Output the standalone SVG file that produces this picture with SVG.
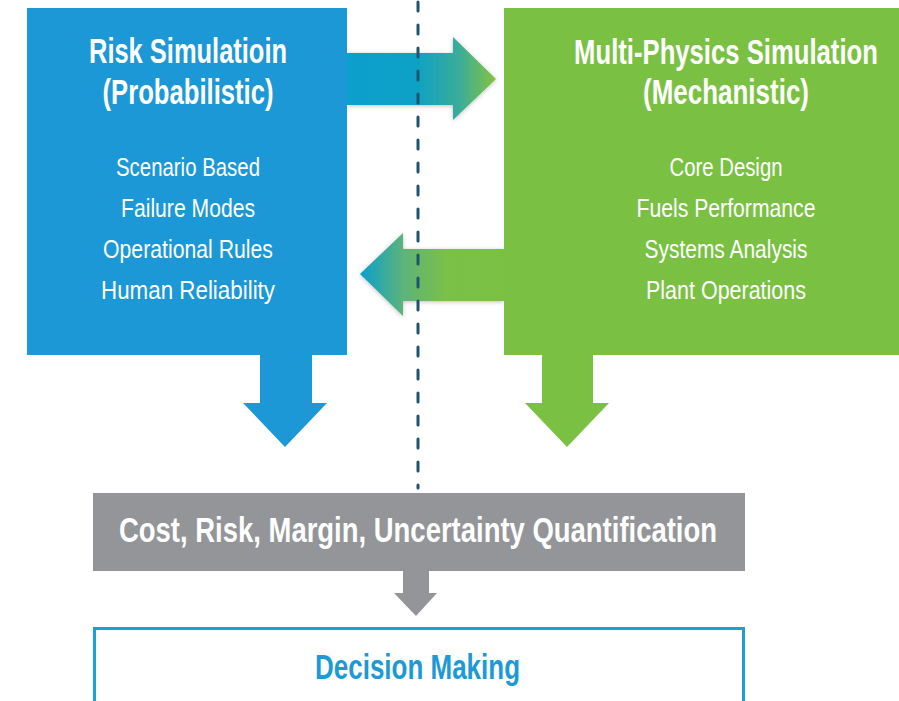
<svg xmlns="http://www.w3.org/2000/svg" width="899" height="701" viewBox="0 0 899 701">
  <defs>
    <linearGradient id="gradRight" gradientUnits="userSpaceOnUse" x1="347" y1="0" x2="496" y2="0">
      <stop offset="0" stop-color="#0a9fcd"/>
      <stop offset="0.45" stop-color="#0ba1c6"/>
      <stop offset="0.75" stop-color="#3aac9a"/>
      <stop offset="1" stop-color="#85c33f"/>
    </linearGradient>
    <linearGradient id="gradLeft" gradientUnits="userSpaceOnUse" x1="504" y1="0" x2="360" y2="0">
      <stop offset="0" stop-color="#7ac143"/>
      <stop offset="0.4" stop-color="#7ac048"/>
      <stop offset="0.7" stop-color="#5db37a"/>
      <stop offset="1" stop-color="#0a9fcd"/>
    </linearGradient>
    <filter id="shadow" x="-20%" y="-30%" width="140%" height="160%">
      <feDropShadow dx="0" dy="1" stdDeviation="2" flood-color="#000" flood-opacity="0.25"/>
    </filter>
  </defs>
  <style>
    .title { font-family: "Liberation Sans", Arial, sans-serif; font-weight: bold; font-size: 35px; fill: #ffffff; text-anchor: middle; }
    .item { font-family: "Liberation Sans", Arial, sans-serif; font-size: 26px; fill: #ffffff; text-anchor: middle; }
    .band { font-family: "Liberation Sans", Arial, sans-serif; font-weight: bold; font-size: 35px; fill: #ffffff; text-anchor: middle; }
    .decision { font-family: "Liberation Sans", Arial, sans-serif; font-weight: bold; font-size: 35px; fill: #1b9ad6; text-anchor: middle; }
    .blue { fill: #1b98d5; }
    .green { fill: #7ac143; }
    .gray { fill: #939598; }
  </style>

  <g id="connectors">
    <polygon id="arrow-risk-to-physics" fill="url(#gradRight)" filter="url(#shadow)" points="347,53 453,53 453,37 496,79 453,120 453,105 347,105"/>
    <polygon id="arrow-physics-to-risk" fill="url(#gradLeft)" filter="url(#shadow)" points="504,249 403,249 403,233 360,274 403,316 403,301 504,301"/>
    <polygon id="arrow-risk-down" class="blue" points="260,354 312,354 312,403 327,403 285,447 243,403 260,403"/>
    <polygon id="arrow-physics-down" class="green" points="542,354 593,354 593,403 609,403 567,447 525,403 542,403"/>
    <polygon id="arrow-quant-down" class="gray" points="403,570 429,570 429,593 437,593 416,616 394,593 403,593"/>
    <line id="divider" x1="418" y1="2" x2="418" y2="488" stroke="#1d5570" stroke-width="3" stroke-dasharray="9 14" stroke-linecap="round"/>
  </g>

  <g id="risk-simulation">
    <rect x="27" y="8" width="320" height="347" class="blue"/>
    <text class="title" x="188" y="63" textLength="198" lengthAdjust="spacingAndGlyphs">Risk Simulatioin</text>
    <text class="title" x="188" y="104" textLength="171" lengthAdjust="spacingAndGlyphs">(Probabilistic)</text>
    <text class="item" x="188" y="176" textLength="144" lengthAdjust="spacingAndGlyphs">Scenario Based</text>
    <text class="item" x="188" y="217" textLength="134" lengthAdjust="spacingAndGlyphs">Failure Modes</text>
    <text class="item" x="188" y="258" textLength="170" lengthAdjust="spacingAndGlyphs">Operational Rules</text>
    <text class="item" x="188" y="299" textLength="174" lengthAdjust="spacingAndGlyphs">Human Reliability</text>
  </g>

  <g id="multi-physics-simulation">
    <rect x="504" y="8" width="395" height="347" class="green"/>
    <text class="title" transform="translate(726,64) scale(0.72,1)" x="0" y="0" textLength="422" lengthAdjust="spacingAndGlyphs">Multi-Physics Simulation</text>
    <text class="title" x="726" y="104" textLength="166" lengthAdjust="spacingAndGlyphs">(Mechanistic)</text>
    <text class="item" x="726" y="176" textLength="113" lengthAdjust="spacingAndGlyphs">Core Design</text>
    <text class="item" x="726" y="217" textLength="179" lengthAdjust="spacingAndGlyphs">Fuels Performance</text>
    <text class="item" x="726" y="258" textLength="163" lengthAdjust="spacingAndGlyphs">Systems Analysis</text>
    <text class="item" x="726" y="299" textLength="160" lengthAdjust="spacingAndGlyphs">Plant Operations</text>
  </g>

  <g id="quantification">
    <rect x="93" y="493" width="652" height="78" class="gray"/>
    <text class="band" x="418" y="542" textLength="598" lengthAdjust="spacingAndGlyphs">Cost, Risk, Margin, Uncertainty Quantification</text>
  </g>

  <g id="decision-making">
    <rect x="94.5" y="628.5" width="649" height="80" fill="#ffffff" stroke="#1ba0d3" stroke-width="3"/>
    <text class="decision" x="417.5" y="679" textLength="205" lengthAdjust="spacingAndGlyphs">Decision Making</text>
  </g>
</svg>
